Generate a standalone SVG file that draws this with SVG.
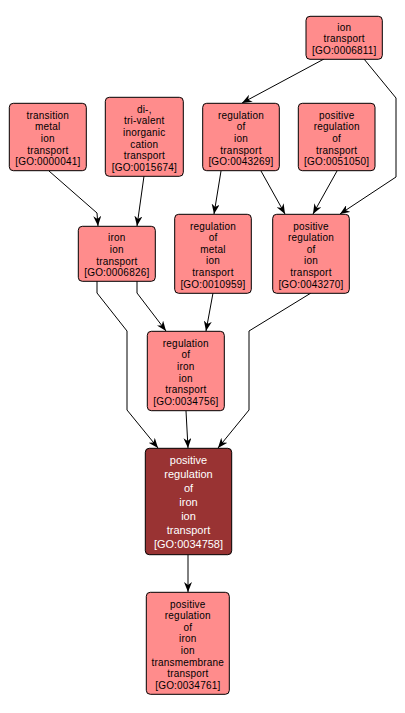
<svg xmlns="http://www.w3.org/2000/svg" width="405" height="713" viewBox="0 0 405 713">
<style>
.n rect{fill:#ff8c8c;stroke:#000;stroke-width:1}
.n text{font-family:"Liberation Sans",Arial,sans-serif;font-size:10px;fill:#000;text-anchor:middle;letter-spacing:0.2px}
.d rect{fill:#993333;stroke:#000;stroke-width:1}
.d text{font-family:"Liberation Sans",Arial,sans-serif;font-size:11px;fill:#fff;text-anchor:middle}
.e path{fill:none;stroke:#000;stroke-width:1;marker-end:url(#ah)}
</style>
<defs>
<marker id="ah" markerUnits="userSpaceOnUse" markerWidth="10" markerHeight="8" refX="10" refY="4" orient="auto" viewBox="0 0 10 8">
<path d="M0,0 L10,4 L0,8 L3,4 z" fill="#000"/>
</marker>
</defs>
<rect width="405" height="713" fill="#fff"/>
<g id="edges" class="e">
<path d="M49,171 L97,213 L98,226"/>
<path d="M144,176 L137,226"/>
<path d="M324,59 L242,103"/>
<path d="M364,59 L396,98 L396,177 L340,214"/>
<path d="M221,171 L214,214"/>
<path d="M261,171 L285,214"/>
<path d="M337,171 L313,214"/>
<path d="M137,281 L137,293 L166,331"/>
<path d="M97,281 L97,293 L127,331 L127,410 L158,448"/>
<path d="M213,293 L206,331"/>
<path d="M311,293 L249,331 L249,410 L218,448"/>
<path d="M186,411 L188,448"/>
<path d="M188,555 L188,592"/>
</g>
<g id="GO0006811" class="n">
<rect x="306" y="16.3" width="76.3" height="43" rx="4"/>
<text x="344.2" y="30.7"><tspan x="344.2">ion</tspan><tspan x="344.2" dy="11.6">transport</tspan><tspan x="344.2" dy="11.6">[GO:0006811]</tspan></text>
</g>
<g id="GO0000041" class="n">
<rect x="9.3" y="103.3" width="77" height="67.4" rx="4"/>
<text x="47.8" y="118.8"><tspan x="47.8">transition</tspan><tspan x="47.8" dy="11.6">metal</tspan><tspan x="47.8" dy="11.6">ion</tspan><tspan x="47.8" dy="11.6">transport</tspan><tspan x="47.8" dy="11.6">[GO:0000041]</tspan></text>
</g>
<g id="GO0015674" class="n">
<rect x="105.3" y="97.3" width="78" height="79" rx="4"/>
<text x="144.3" y="112.8"><tspan x="144.3">di-,</tspan><tspan x="144.3" dy="11.6">tri-valent</tspan><tspan x="144.3" dy="11.6">inorganic</tspan><tspan x="144.3" dy="11.6">cation</tspan><tspan x="144.3" dy="11.6">transport</tspan><tspan x="144.3" dy="11.6">[GO:0015674]</tspan></text>
</g>
<g id="GO0043269" class="n">
<rect x="202.7" y="103.3" width="76.6" height="67.4" rx="4"/>
<text x="241" y="118.8"><tspan x="241">regulation</tspan><tspan x="241" dy="11.6">of</tspan><tspan x="241" dy="11.6">ion</tspan><tspan x="241" dy="11.6">transport</tspan><tspan x="241" dy="11.6">[GO:0043269]</tspan></text>
</g>
<g id="GO0051050" class="n">
<rect x="298.3" y="103.3" width="76.7" height="67.4" rx="4"/>
<text x="336.7" y="118.8"><tspan x="336.7">positive</tspan><tspan x="336.7" dy="11.6">regulation</tspan><tspan x="336.7" dy="11.6">of</tspan><tspan x="336.7" dy="11.6">transport</tspan><tspan x="336.7" dy="11.6">[GO:0051050]</tspan></text>
</g>
<g id="GO0006826" class="n">
<rect x="78.3" y="226.3" width="77" height="55" rx="4"/>
<text x="116.8" y="241.4"><tspan x="116.8">iron</tspan><tspan x="116.8" dy="11.6">ion</tspan><tspan x="116.8" dy="11.6">transport</tspan><tspan x="116.8" dy="11.6">[GO:0006826]</tspan></text>
</g>
<g id="GO0010959" class="n">
<rect x="174.7" y="214.3" width="76.6" height="79" rx="4"/>
<text x="213" y="229.6"><tspan x="213">regulation</tspan><tspan x="213" dy="11.6">of</tspan><tspan x="213" dy="11.6">metal</tspan><tspan x="213" dy="11.6">ion</tspan><tspan x="213" dy="11.6">transport</tspan><tspan x="213" dy="11.6">[GO:0010959]</tspan></text>
</g>
<g id="GO0043270" class="n">
<rect x="272.7" y="214.3" width="76.6" height="79" rx="4"/>
<text x="311" y="229.6"><tspan x="311">positive</tspan><tspan x="311" dy="11.6">regulation</tspan><tspan x="311" dy="11.6">of</tspan><tspan x="311" dy="11.6">ion</tspan><tspan x="311" dy="11.6">transport</tspan><tspan x="311" dy="11.6">[GO:0043270]</tspan></text>
</g>
<g id="GO0034756" class="n">
<rect x="147.3" y="331.3" width="77" height="79.4" rx="4"/>
<text x="185.8" y="346.8"><tspan x="185.8">regulation</tspan><tspan x="185.8" dy="11.6">of</tspan><tspan x="185.8" dy="11.6">iron</tspan><tspan x="185.8" dy="11.6">ion</tspan><tspan x="185.8" dy="11.6">transport</tspan><tspan x="185.8" dy="11.6">[GO:0034756]</tspan></text>
</g>
<g id="GO0034758" class="d">
<rect x="145.3" y="448.3" width="86.4" height="106.4" rx="4"/>
<text x="188.5" y="464"><tspan x="188.5">positive</tspan><tspan x="188.5" dy="14">regulation</tspan><tspan x="188.5" dy="14">of</tspan><tspan x="188.5" dy="14">iron</tspan><tspan x="188.5" dy="14">ion</tspan><tspan x="188.5" dy="14">transport</tspan><tspan x="188.5" dy="14">[GO:0034758]</tspan></text>
</g>
<g id="GO0034761" class="n">
<rect x="146.3" y="592.3" width="83" height="102" rx="4"/>
<text x="187.8" y="607.5"><tspan x="187.8">positive</tspan><tspan x="187.8" dy="11.6">regulation</tspan><tspan x="187.8" dy="11.6">of</tspan><tspan x="187.8" dy="11.6">iron</tspan><tspan x="187.8" dy="11.6">ion</tspan><tspan x="187.8" dy="11.6">transmembrane</tspan><tspan x="187.8" dy="11.6">transport</tspan><tspan x="187.8" dy="11.6">[GO:0034761]</tspan></text>
</g>
</svg>
